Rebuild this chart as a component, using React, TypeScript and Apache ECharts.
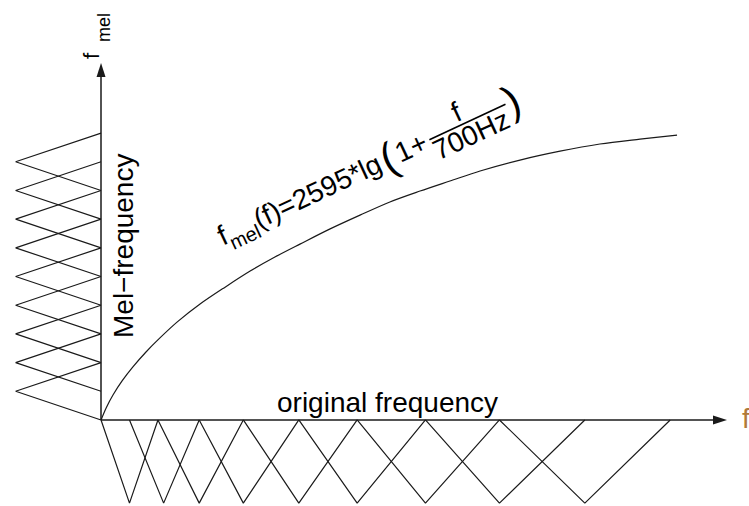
import React, { useEffect, useRef } from 'react';
import * as echarts from 'echarts';

// Curve f_mel(f) (x: original-frequency units, y: mel units)
const curveF = [0, 0.18, 0.42, 0.74, 1.12, 1.58, 2.07, 2.67, 3.48, 4.36, 5.24, 6.11, 6.99, 8.05, 9.1, 10.15, 11.21, 12.26, 13.32, 14.72, 16.13, 17.53, 18.94, 20.24];
const curveMel = [0, 0.42, 0.87, 1.36, 1.85, 2.37, 2.86, 3.41, 4.04, 4.63, 5.19, 5.68, 6.13, 6.66, 7.14, 7.6, 7.98, 8.33, 8.68, 9.06, 9.37, 9.62, 9.79, 9.93];

// Triangular filters on the original-frequency axis
const freqEdges = [0, 1, 2, 3.45, 5, 6.95, 9, 11.4, 14, 17, 20];
const freqCenters = [1, 2.2, 3.45, 5, 6.95, 9, 11.4, 14, 17];
const freqFilterDepth = -2.9;

// Triangular filters on the mel axis
const melEdges = [0, 1, 2, 3, 4, 5, 6, 7, 8, 9, 10];
const melCenters = [1, 2, 3, 4, 5, 6, 7, 8, 9];
const melFilterDepth = -3;

// Axis extents (arrow ends)
const freqAxisEnd = 21.75;
const melAxisEnd = 12.2;

const FONT = '"Liberation Sans", Arial, Helvetica, sans-serif';
const INK = '#1a1a1a';

function txt(text: string, x: number, y: number, fontSize: number, align = 'left', fill = '#000') {
  return {
    type: 'text',
    style: {
      text,
      x,
      y,
      fill,
      fontSize,
      fontFamily: FONT,
      align,
      verticalAlign: 'middle',
      textAlign: align,
      textVerticalAlign: 'middle',
    },
  };
}

export default function App() {
  const ref = useRef<HTMLDivElement>(null);

  useEffect(() => {
    if (!ref.current) return;
    const chart = echarts.init(ref.current, undefined, { renderer: 'svg' });

    const lineBase = {
      type: 'line',
      showSymbol: false,
      symbol: 'none',
      clip: false,
      silent: true,
      lineStyle: { color: INK, width: 1.2 },
    };

    const series: any[] = [];
    series.push({
      ...lineBase,
      smooth: 0.3,
      data: curveF.map((f, i) => [f, curveMel[i]]),
      markLine: {
        silent: true,
        symbol: ['none', 'triangle'],
        symbolSize: [9, 14],
        label: { show: false },
        lineStyle: { type: 'solid', color: INK, width: 1.5 },
        emphasis: { disabled: true },
        data: [
          [{ coord: [0, 0] }, { coord: [freqAxisEnd, 0] }],
          [{ coord: [0, 0] }, { coord: [0, melAxisEnd] }],
        ],
      },
    });
    freqCenters.forEach((c, i) => {
      series.push({
        ...lineBase,
        data: [[freqEdges[i], 0], [c, freqFilterDepth], [freqEdges[i + 2], 0]],
      });
    });
    melCenters.forEach((c, i) => {
      series.push({
        ...lineBase,
        data: [[0, melEdges[i]], [melFilterDepth, c], [0, melEdges[i + 2]]],
      });
    });

    const axisCommon = {
      type: 'value',
      show: false,
      axisLine: { show: false },
      axisTick: { show: false },
      axisLabel: { show: false },
      splitLine: { show: false },
    };

    const rot = (25 * Math.PI) / 180;

    chart.setOption({
      animation: false,
      backgroundColor: '#fff',
      grid: { left: 0, top: 70, width: 720, height: 436 },
      xAxis: { ...axisCommon, min: -3.55, max: freqAxisEnd },
      yAxis: { ...axisCommon, min: -3, max: melAxisEnd },
      series,
      graphic: [
        txt('original frequency', 277, 402.3, 28),
        txt('f', 742, 418, 28, 'left', '#b07a3a'),
        {
          type: 'group',
          x: 133,
          y: 338,
          rotation: Math.PI / 2,
          children: [txt('Mel\u2212frequency', 0, -9.7, 28)],
        },
        {
          type: 'group',
          x: 99,
          y: 59,
          rotation: Math.PI / 2,
          children: [txt('f', 0, -7.6, 22), txt('mel', 17, 5, 18)],
        },
        {
          type: 'group',
          x: 223,
          y: 246,
          rotation: rot,
          children: [
            txt('f', 0, -9.7, 28),
            txt('mel', 8, 1.1, 20),
            txt('(f)=2595*lg', 40, -9.7, 28),
            txt('(', 180, -10, 42),
            txt('1', 196, -9.7, 28),
            txt('+', 212, -9.7, 28),
            {
              type: 'line',
              shape: { x1: 232, y1: -9, x2: 316, y2: -9 },
              style: { stroke: '#000', lineWidth: 1.6 },
            },
            txt('f', 268, -22.7, 28, 'center'),
            txt('700Hz', 272, 4.3, 28, 'center'),
            txt(')', 316, -10, 42),
          ],
        },
      ],
    });

    return () => chart.dispose();
  }, []);

  return (
    <div
      ref={ref}
      style={{ position: 'fixed', left: 0, top: 0, width: 749, height: 506, background: '#fff' }}
    />
  );
}
